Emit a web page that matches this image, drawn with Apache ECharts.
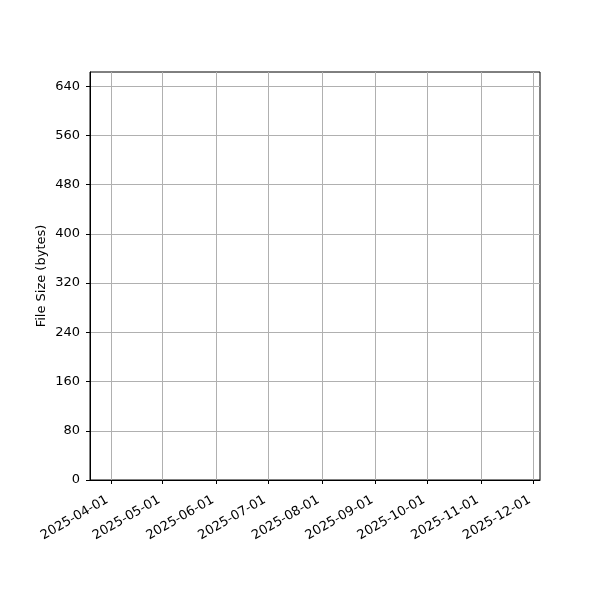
<!DOCTYPE html>
<html>
<head>
<meta charset="utf-8">
<script src="https://cdn.jsdelivr.net/npm/echarts@6/dist/echarts.min.js"></script>
<style>
html, body { margin: 0; padding: 0; background: #fff; }
#chart { width: 600px; height: 600px; }
</style>
</head>
<body>
<div id="chart"></div>
<script>
// month ticks on the x axis
var monthTicks = ['2025-04-01', '2025-05-01', '2025-06-01', '2025-07-01', '2025-08-01',
	'2025-09-01', '2025-10-01', '2025-11-01', '2025-12-01'];
var xRange = ['2025-03-20', '2025-12-05'];
var yTicks = [0, 80, 160, 240, 320, 400, 480, 560, 640];
var yMax = 663;
// no points in the file size series
var fileSizeData = [];

function ts(s) {
	return new Date(s + 'T00:00:00Z').getTime();
}

var chart = echarts.init(document.getElementById('chart'));
var tickTimes = monthTicks.map(ts);
var font = 'DejaVu Sans';

var option = {
	animation: false,
	grid: {
		left: 90,
		right: 60,
		top: 72,
		bottom: 120,
		show: true,
		borderColor: '#000',
		borderWidth: 1
	},
	xAxis: {
		type: 'value',
		min: ts(xRange[0]),
		max: ts(xRange[1]),
		axisLine: { lineStyle: { color: '#000', width: 1 } },
		axisTick: {
			show: true,
			length: 4,
			lineStyle: { color: '#000' },
			customValues: tickTimes
		},
		splitLine: { show: true, lineStyle: { color: '#b0b0b0', width: 1 } },
		axisLabel: {
			customValues: tickTimes,
			rotate: 30,
			margin: 17,
			padding: [0, 4, 0, 0],
			color: '#000',
			fontFamily: font,
			fontSize: 13,
			formatter: function(v) {
				var d = new Date(v);
				var m = d.getUTCMonth() + 1;
				return d.getUTCFullYear() + '-' + (m < 10 ? '0' + m : m) + '-01';
			}
		}
	},
	yAxis: {
		type: 'value',
		min: 0,
		max: yMax,
		name: 'File Size (bytes)',
		nameLocation: 'middle',
		nameGap: 42,
		nameMoveOverlap: false,
		nameTextStyle: { color: '#000', fontFamily: font, fontSize: 13 },
		axisLine: { show: true, lineStyle: { color: '#000', width: 1 } },
		axisTick: {
			show: true,
			length: 4,
			lineStyle: { color: '#000' },
			customValues: yTicks
		},
		splitLine: { show: true, lineStyle: { color: '#b0b0b0', width: 1 } },
		axisLabel: {
			customValues: yTicks,
			margin: 10,
			color: '#000',
			fontFamily: font,
			fontSize: 13
		}
	},
	series: [{
		name: 'File Size',
		type: 'line',
		data: fileSizeData
	}]
};
chart.setOption(option);
</script>
</body>
</html>
